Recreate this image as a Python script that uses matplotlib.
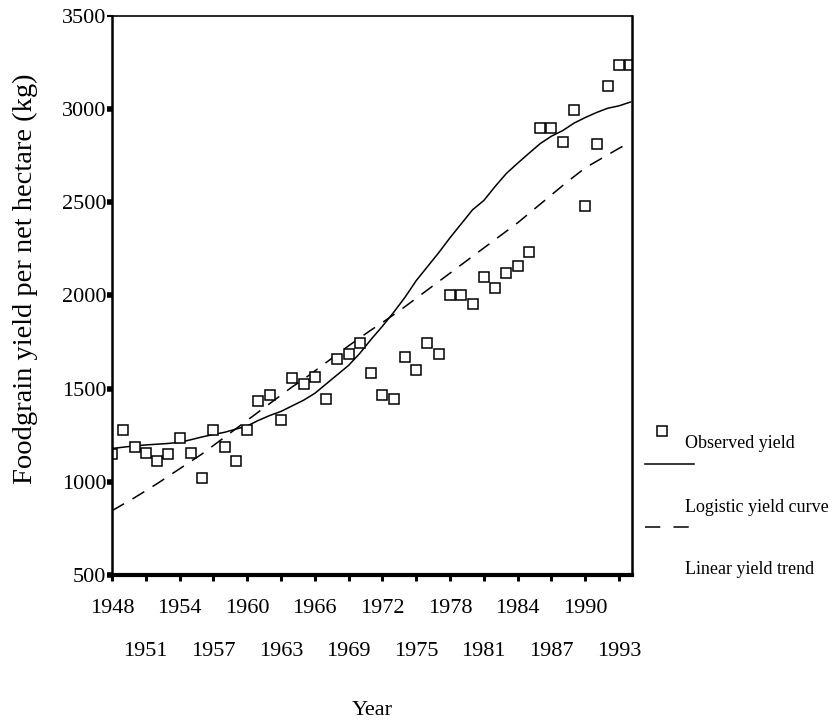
import matplotlib

matplotlib.use("Agg")

import matplotlib.pyplot as plt
from matplotlib.lines import Line2D
import numpy as np

plt.rcParams["font.family"] = ["Liberation Serif", "DejaVu Serif"]
plt.rcParams["lines.scale_dashes"] = False

years = np.arange(1948, 1995)

observed_yield = [
    1150, 1280, 1185, 1155, 1110, 1150, 1235, 1155, 1020, 1280,
    1185, 1110, 1280, 1432, 1464, 1330, 1556, 1524, 1561, 1443,
    1658, 1685, 1745, 1583, 1464, 1443, 1669, 1599, 1745, 1685,
    2003, 2003, 1955, 2100, 2041, 2122, 2159, 2235, 2898, 2898,
    2822, 2995, 2483, 2811, 3124, 3237, 3237,
]

logistic_curve = [
    1179, 1186, 1193, 1198, 1202, 1206, 1212, 1226, 1241, 1254,
    1266, 1283, 1300, 1330, 1356, 1378, 1408, 1438, 1475, 1525,
    1575, 1625, 1690, 1765, 1835, 1910, 1990, 2080, 2155, 2230,
    2310, 2385, 2460, 2510, 2585, 2655, 2710, 2763, 2815, 2855,
    2885, 2925, 2955, 2982, 3005, 3018, 3038,
]

linear_trend = [
    845, 880, 915, 952, 990, 1030, 1070, 1110, 1150, 1195,
    1240, 1285, 1330, 1375, 1420, 1465, 1510, 1550, 1595, 1640,
    1685, 1730, 1773, 1815, 1855, 1897, 1940, 1985, 2030, 2075,
    2120, 2165, 2210, 2255, 2300, 2345, 2390, 2440, 2490, 2540,
    2590, 2638, 2685, 2720, 2755, 2790, 2822,
]

row1_years = [1948, 1954, 1960, 1966, 1972, 1978, 1984, 1990]
row2_years = [1951, 1957, 1963, 1969, 1975, 1981, 1987, 1993]
y_ticks = [500, 1000, 1500, 2000, 2500, 3000, 3500]

legend_labels = ["Observed yield", "Logistic yield curve", "Linear yield trend"]

W, H = 836, 722
fig = plt.figure(figsize=(W / 100, H / 100), dpi=100)
ax = fig.add_axes([112 / W, 1 - 575 / H, 520 / W, 559 / H])


def px(x, y):
    return x / W, 1 - y / H


ax.plot(years, logistic_curve, color="black", lw=1.1)
ax.plot(years, linear_trend, color="black", lw=1.1, dashes=(10, 7))
ax.plot(years, observed_yield, ls="none", marker="s", ms=7.6,
        mfc="white", mec="black", mew=1.1)

ax.set_xlim(1948.0, 1994.15)
ax.set_ylim(500, 3500)

ax.set_yticks(y_ticks)
ax.set_yticklabels([str(v) for v in y_ticks])
ax.tick_params(axis="y", direction="out", length=3.6, width=4.0, pad=0.5,
               labelsize=16)
ax.yaxis.get_major_ticks()[-1].tick1line.set_markeredgewidth(1.5)

ax.set_xticks(row1_years)
ax.set_xticklabels([str(v) for v in row1_years])
ax.set_xticks(row2_years, minor=True)
ax.set_xticklabels([str(v) for v in row2_years], minor=True)
ax.tick_params(axis="x", which="both", direction="out", length=4.5, width=2.2,
               labelsize=16)
ax.tick_params(axis="x", which="major", pad=13)
ax.tick_params(axis="x", which="minor", pad=44)

ax.spines["top"].set_linewidth(1.2)
ax.spines["left"].set_linewidth(1.8)
ax.spines["right"].set_linewidth(1.8)
ax.spines["bottom"].set_linewidth(3.0)

ax.set_ylabel("Foodgrain yield per net hectare (kg)", fontsize=20.5)
ax.yaxis.set_label_coords(-0.143, 0.53)
ax.set_xlabel("Year", fontsize=16)
ax.xaxis.set_label_coords(0.5, -0.226)

# legend pieces outside the axes, laid out as in the original
fig.add_artist(Line2D([px(662, 0)[0]], [px(0, 431)[1]], transform=fig.transFigure,
                      ls="none", marker="s", ms=7.6, mfc="white", mec="black", mew=1.1))
fig.add_artist(Line2D([px(645, 0)[0], px(694, 0)[0]], [px(0, 464)[1]] * 2,
                      transform=fig.transFigure, color="black", lw=1.1))
fig.add_artist(Line2D([px(645, 0)[0], px(694, 0)[0]], [px(0, 527)[1]] * 2,
                      transform=fig.transFigure, color="black", lw=1.1,
                      dashes=(11, 9.5)))
for label, ypos in zip(legend_labels, [443, 507, 570]):
    fig.text(*px(685, ypos), label, fontsize=13, va="center", ha="left")

fig.savefig("out.png", dpi=100)
